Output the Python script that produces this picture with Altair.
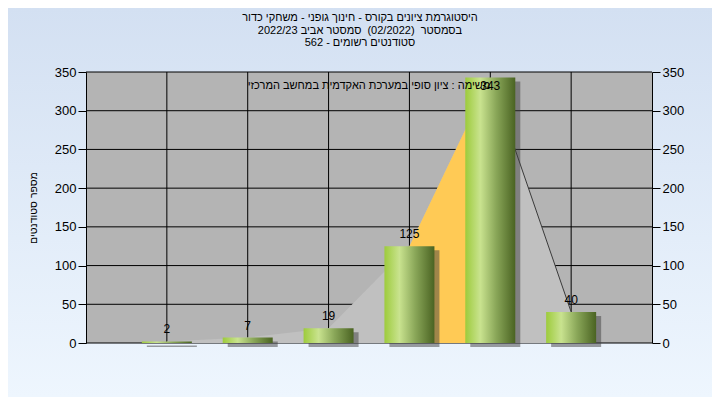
import altair as alt
import pandas as pd

# ---- data ----
categories = ["75", "80", "85", "(Q1 90)", "(Q3 95)", "100"]
counts = [2, 7, 19, 125, 343, 40]
quartile_categories = ["(Q1 90)", "(Q3 95)"]
tail_categories = ["(Q3 95)", "100"]
y_ticks = [0, 50, 100, 150, 200, 250, 300, 350]

title_lines = [
    "היסטוגרמת ציונים בקורס - חינוך גופני - משחקי כדור",
    "בסמסטר\u00a0\u00a0(02/2022)\u00a0\u00a0סמסטר אביב 2022/23",
    "סטודנטים רשומים - 562",
]
inner_title = "משימה : ציון סופי במערכת האקדמית במחשב המרכזי"
x_title = "טווח ציונים"
y_title = "מספר סטודנטים"

# ---- layout ----
W, H = 566, 271
PAD = {"left": 78, "top": 64, "right": 60, "bottom": 54}
FONT = "Liberation Sans"
Y_MAX = 350
LABEL_CAP = 316  # value labels are kept inside the plot area

df = pd.DataFrame({"category": categories, "count": counts})
ticks_df = pd.DataFrame({"v": y_ticks})
one = pd.DataFrame({"k": [0]})

xscale = alt.Scale(type="point", padding=1, domain=categories)


def xenc(axis=None):
    return alt.X("category:N", scale=xscale, axis=axis)


def yenc(field, axis=None):
    return alt.Y(field, type="quantitative",
                 scale=alt.Scale(domain=[0, Y_MAX], nice=False), axis=axis)


bg_grad = alt.LinearGradient(
    gradient="linear", x1=0, x2=0, y1=0, y2=1,
    stops=[alt.GradientStop(color="#d3e0f2", offset=0),
           alt.GradientStop(color="#eef6fe", offset=1)])

bar_grad = alt.LinearGradient(
    gradient="linear", x1=0, x2=1, y1=0, y2=0,
    stops=[alt.GradientStop(color="#9dcb3c", offset=0),
           alt.GradientStop(color="#c9e38f", offset=0.3),
           alt.GradientStop(color="#89a658", offset=0.62),
           alt.GradientStop(color="#4a6322", offset=1)])

background = alt.Chart(one).mark_rect(fill=bg_grad).encode(
    x=alt.value(-PAD["left"]), x2=alt.value(W + PAD["right"]),
    y=alt.value(-PAD["top"]), y2=alt.value(H + PAD["bottom"]))

plot_bg = alt.Chart(one).mark_rect(fill="#b4b4b4").encode(
    x=alt.value(0), x2=alt.value(W), y=alt.value(0), y2=alt.value(H))

right_axis = alt.Axis(
    orient="right", values=y_ticks, grid=False, domainColor="black",
    tickColor="black", tickSize=8, labelPadding=2, labelFont=FONT,
    labelFontSize=13, labelColor="black", title=None, zindex=1)

hgrid = alt.Chart(ticks_df).mark_rule(color="black", strokeWidth=1).encode(
    y=yenc("v", right_axis))

vgrid = alt.Chart(df).mark_rule(color="black", strokeWidth=1).encode(
    x=xenc())

area = alt.Chart(df).mark_area(color="#c0c0c0", opacity=1).encode(
    x=xenc(), y=yenc("count"))

orange = alt.Chart(df).transform_filter(
    alt.FieldOneOfPredicate(field="category", oneOf=quartile_categories)
).mark_area(color="#ffca55", opacity=1).encode(x=xenc(), y=yenc("count"))

tail = alt.Chart(df).transform_filter(
    alt.FieldOneOfPredicate(field="category", oneOf=tail_categories)
).mark_line(color="#3a3a3a", strokeWidth=1).encode(x=xenc(), y=yenc("count"))

shadow = alt.Chart(df).mark_bar(
    size=50, color="#404040", opacity=0.5, xOffset=5, yOffset=4
).encode(x=xenc(), y=yenc("count"))

x_axis = alt.Axis(
    grid=False, domainColor="black", tickColor="black", tickSize=5,
    labelPadding=6, labelAngle=0, labelFont=FONT, labelFontSize=13,
    labelColor="black", title=x_title, titleFont=FONT, titleFontSize=10.5,
    titleFontWeight="normal", titleColor="black", titleX=W / 2,
    titleY=41, titleAlign="center", titleBaseline="middle", zindex=1)

left_axis = alt.Axis(
    values=y_ticks, grid=False, domainColor="black", tickColor="black",
    tickSize=8, labelPadding=2, labelFont=FONT, labelFontSize=13,
    labelColor="black", title=y_title, titleFont=FONT, titleFontSize=10.5,
    titleFontWeight="normal", titleColor="black", titleAngle=270,
    titleX=-53, titleY=H / 2, titleAlign="center", titleBaseline="middle",
    zindex=1)

bars = alt.Chart(df).mark_bar(size=50, fill=bar_grad).encode(
    x=xenc(x_axis), y=yenc("count", left_axis))

labels = alt.Chart(df).transform_calculate(
    label_y=f"min(datum.count, {LABEL_CAP})"
).mark_text(font=FONT, fontSize=12, color="black", baseline="alphabetic",
            dy=-8).encode(x=xenc(), y=yenc("label_y"), text="count:Q")

inner = alt.Chart(one).mark_text(
    text=inner_title, font=FONT, fontSize=11, color="black",
    baseline="middle", align="center").encode(
    x=alt.value(W / 2), y=alt.value(14))

title = alt.Chart(one).mark_text(
    text=title_lines, font=FONT, fontSize=11, color="black",
    baseline="middle", align="center", lineHeight=12.5).encode(
    x=alt.value(274), y=alt.value(-54))

chart = alt.layer(
    background, plot_bg, hgrid, vgrid, area, orange, tail, shadow, bars,
    labels, inner, title
).resolve_scale(y="independent").properties(
    width=W, height=H, padding=PAD,
    autosize=alt.AutoSizeParams(type="none"),
    background="#e4edf9"
).configure_view(strokeWidth=0)

chart.save("out.html", embed_options={"renderer": "svg", "actions": False})
